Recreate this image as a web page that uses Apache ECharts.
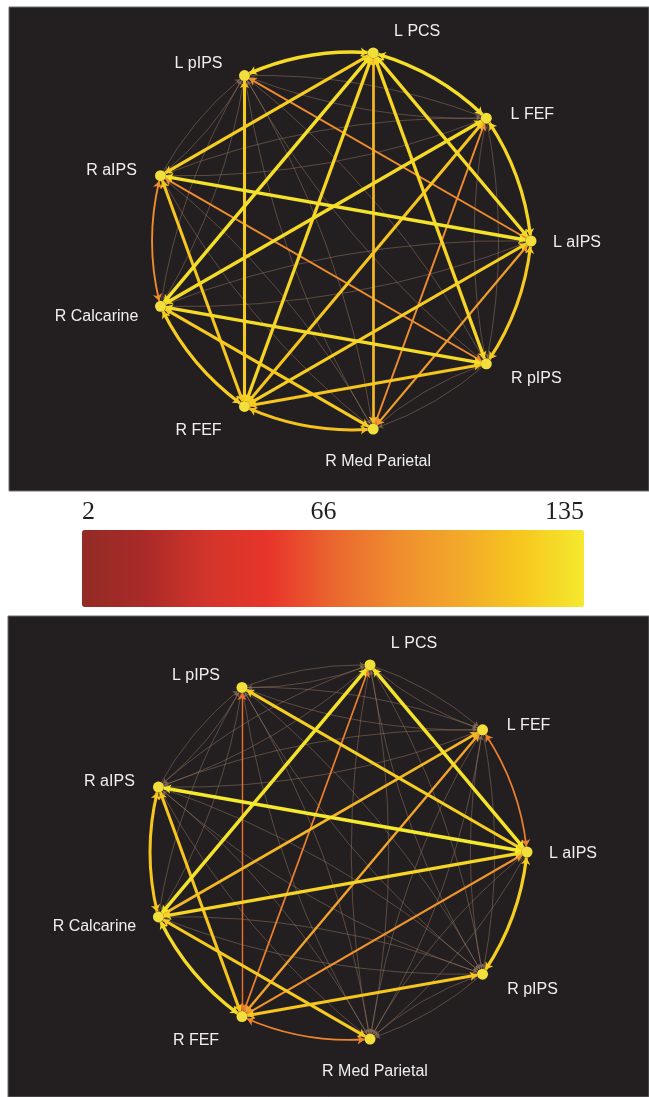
<!DOCTYPE html>
<html>
<head>
<meta charset="utf-8">
<script src="https://cdn.jsdelivr.net/npm/echarts@6/dist/echarts.min.js"></script>
<style>
html, body { margin: 0; padding: 0; background: #fff; }
#chart { width: 649px; height: 1097px; }
</style>
</head>
<body>
<div id="chart"></div>
<script>
// regions, clockwise from the top of the ring
var regions = ['L PCS', 'L FEF', 'L aIPS', 'R pIPS', 'R Med Parietal', 'R FEF', 'R Calcarine', 'R aIPS', 'L pIPS'];
var scaleTicks = [2, 66, 135];
var scaleMin = 2, scaleMax = 135;

// connection strength per pair, upper panel
var topPairs = [
    ['L PCS', 'L FEF', 130], ['L PCS', 'L aIPS', 128], ['L PCS', 'R pIPS', 125], ['L PCS', 'R Med Parietal', 110],
    ['L PCS', 'R FEF', 125], ['L PCS', 'R Calcarine', 130], ['L PCS', 'R aIPS', 122], ['L PCS', 'L pIPS', 128],
    ['L FEF', 'L aIPS', 125], ['L FEF', 'R pIPS', 30], ['L FEF', 'R Med Parietal', 85], ['L FEF', 'R FEF', 118],
    ['L FEF', 'R Calcarine', 128], ['L FEF', 'R aIPS', 25], ['L FEF', 'L pIPS', 15],
    ['L aIPS', 'R pIPS', 120], ['L aIPS', 'R Med Parietal', 95], ['L aIPS', 'R FEF', 122], ['L aIPS', 'R Calcarine', 45],
    ['L aIPS', 'R aIPS', 132], ['L aIPS', 'L pIPS', 85],
    ['R pIPS', 'R Med Parietal', 20], ['R pIPS', 'R FEF', 118], ['R pIPS', 'R Calcarine', 128], ['R pIPS', 'R aIPS', 85],
    ['R pIPS', 'L pIPS', 20],
    ['R Med Parietal', 'R FEF', 115], ['R Med Parietal', 'R Calcarine', 120], ['R Med Parietal', 'R aIPS', 20],
    ['R Med Parietal', 'L pIPS', 15],
    ['R FEF', 'R Calcarine', 122], ['R FEF', 'R aIPS', 118], ['R FEF', 'L pIPS', 120],
    ['R Calcarine', 'R aIPS', 85], ['R Calcarine', 'L pIPS', 25],
    ['R aIPS', 'L pIPS', 20]
];

// connection strength per pair, lower panel
var bottomPairs = [
    ['L PCS', 'L FEF', 20], ['L PCS', 'L aIPS', 132], ['L PCS', 'R pIPS', 15], ['L PCS', 'R Med Parietal', 15],
    ['L PCS', 'R FEF', 80], ['L PCS', 'R Calcarine', 132], ['L PCS', 'R aIPS', 15], ['L PCS', 'L pIPS', 20],
    ['L FEF', 'L aIPS', 80], ['L FEF', 'R pIPS', 15], ['L FEF', 'R Med Parietal', 15], ['L FEF', 'R FEF', 100],
    ['L FEF', 'R Calcarine', 110], ['L FEF', 'R aIPS', 15], ['L FEF', 'L pIPS', 15],
    ['L aIPS', 'R pIPS', 122], ['L aIPS', 'R Med Parietal', 15], ['L aIPS', 'R FEF', 90], ['L aIPS', 'R Calcarine', 125],
    ['L aIPS', 'R aIPS', 135], ['L aIPS', 'L pIPS', 122],
    ['R pIPS', 'R Med Parietal', 15], ['R pIPS', 'R FEF', 118], ['R pIPS', 'R Calcarine', 20], ['R pIPS', 'R aIPS', 15],
    ['R pIPS', 'L pIPS', 15],
    ['R Med Parietal', 'R FEF', 82], ['R Med Parietal', 'R Calcarine', 120], ['R Med Parietal', 'R aIPS', 15],
    ['R Med Parietal', 'L pIPS', 15],
    ['R FEF', 'R Calcarine', 128], ['R FEF', 'R aIPS', 118], ['R FEF', 'L pIPS', 72],
    ['R Calcarine', 'R aIPS', 118], ['R Calcarine', 'L pIPS', 20],
    ['R aIPS', 'L pIPS', 15]
];

// colour ramp of the scale bar
var ramp = ['#922b24', '#aa2a29', '#d3352a', '#e8352b', '#ea662f', '#ef8c2e', '#f2a82a', '#f6c71f', '#f5e92e'];

// label placement around each node
var labelOffset = {
    'L PCS': [44, -21], 'L FEF': [46, -4], 'L aIPS': [46, 2], 'R pIPS': [50, 15], 'R Med Parietal': [5, 32],
    'R FEF': [-46, 24], 'R Calcarine': [-64, 10], 'R aIPS': [-49, -5], 'L pIPS': [-46, -12]
};

function hexRgb(h) {
    return [parseInt(h.substr(1, 2), 16), parseInt(h.substr(3, 2), 16), parseInt(h.substr(5, 2), 16)];
}
function rampAt(v) {
    var t = (v - scaleMin) / (scaleMax - scaleMin) * (ramp.length - 1);
    var i = Math.max(0, Math.min(Math.floor(t), ramp.length - 2));
    var f = t - i;
    var a = hexRgb(ramp[i]), b = hexRgb(ramp[i + 1]);
    return 'rgb(' + [0, 1, 2].map(function (k) { return Math.round(a[k] + (b[k] - a[k]) * f); }).join(',') + ')';
}

function buildLinks(pairs) {
    var out = [];
    var n = regions.length;
    pairs.forEach(function (p) {
        var a = regions.indexOf(p[0]), b = regions.indexOf(p[1]), w = p[2];
        if (w < 60) {
            // weak: both directions, slightly bent, thin tan
            [[p[0], p[1]], [p[1], p[0]]].forEach(function (d) {
                out.push({
                    source: d[0], target: d[1], value: w,
                    symbol: ['none', 'arrow'], symbolSize: [0, 5],
                    lineStyle: { color: '#9a7a66', width: 0.8, opacity: 0.6, curveness: 0.1 }
                });
            });
        } else {
            var s = p[0], t = p[1], bend = 0;
            if ((b - a + n) % n === 1) { bend = 0.13; }
            else if ((a - b + n) % n === 1) { s = p[1]; t = p[0]; bend = 0.13; }
            out.push({
                source: s, target: t, value: w,
                symbol: ['arrow', 'arrow'], symbolSize: 7,
                lineStyle: { color: rampAt(w), width: 1 + (w - 60) / 75 * 2.6, opacity: 1, curveness: bend }
            });
        }
    });
    out.sort(function (x, y) { return x.value - y.value; });
    return out;
}

function ringSeries(idx, pairs) {
    return {
        type: 'graph',
        coordinateSystem: 'polar',
        polarIndex: idx,
        symbol: 'circle',
        symbolSize: 11,
        itemStyle: { color: '#f2df3c' },
        label: { show: true, position: 'inside', color: '#efefef', fontFamily: 'Liberation Sans', fontSize: 16 },
        data: regions.map(function (r) {
            return { name: r, value: [1, r], label: { offset: labelOffset[r] } };
        }),
        links: buildLinks(pairs),
        silent: true,
        emphasis: { disabled: true }
    };
}

function hiddenAxis(o) {
    o.axisLine = { show: false };
    o.axisTick = { show: false };
    o.axisLabel = { show: false };
    o.splitLine = { show: false };
    return o;
}

var myChart = echarts.init(document.getElementById('chart'));
var option = {
    backgroundColor: '#ffffff',
    animation: false,
    graphic: [
        { type: 'rect', z: -10, silent: true, shape: { x: 9, y: 7, width: 640, height: 484 },
          style: { fill: '#231f20', stroke: '#6f6c6c', lineWidth: 1 } },
        { type: 'rect', z: -10, silent: true, shape: { x: 8, y: 616, width: 641, height: 481 },
          style: { fill: '#231f20', stroke: '#6f6c6c', lineWidth: 1 } }
    ],
    polar: [
        { center: [340, 241], radius: 191 },
        { center: [337, 852], radius: 190 }
    ],
    angleAxis: [0, 1].map(function (i) {
        return hiddenAxis({ polarIndex: i, type: 'category', data: regions, startAngle: 100, clockwise: true, boundaryGap: true });
    }),
    radiusAxis: [0, 1].map(function (i) {
        return hiddenAxis({ polarIndex: i, type: 'value', min: 0, max: 1 });
    }),
    grid: { left: 82, top: 530, width: 502, height: 77 },
    xAxis: {
        type: 'value', position: 'top', min: scaleMin, max: scaleMax,
        axisLine: { show: false }, axisTick: { show: false }, splitLine: { show: false },
        axisLabel: {
            customValues: scaleTicks, margin: 5, color: '#231f20',
            fontFamily: 'Liberation Serif', fontSize: 26,
            alignMinLabel: 'left', alignMaxLabel: 'right'
        }
    },
    yAxis: { type: 'value', show: false },
    visualMap: {
        type: 'continuous',
        seriesIndex: [],
        min: scaleMin, max: scaleMax,
        orient: 'horizontal',
        left: 82, top: 530, padding: 0,
        itemWidth: 77, itemHeight: 502,
        calculable: false, text: null, showLabel: false,
        inRange: { color: ramp }
    },
    series: [ringSeries(0, topPairs), ringSeries(1, bottomPairs)]
};
myChart.setOption(option);
</script>
</body>
</html>
